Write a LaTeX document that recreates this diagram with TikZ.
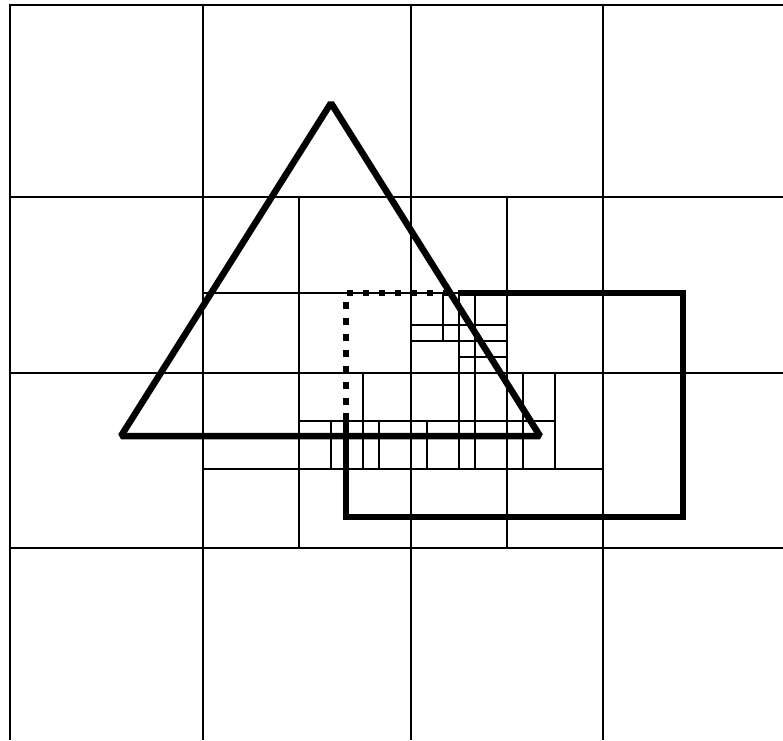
\documentclass[tikz,border=0pt]{standalone}
\usepackage{tikz}

\begin{document}
\begin{tikzpicture}[x=1pt, y=-1pt, cell/.style={line width=2pt}, shape edge/.style={line width=6.5pt}, hidden edge/.style={line width=6.5pt, dash pattern=on 6.5pt off 9.5pt, dash phase=7.5pt}]
\useasboundingbox (0,0) rectangle (783,740);
% coarse cells
\draw[cell] (10,740) -- (10,5) -- (783,5);
\draw[cell] (203,5) -- (203,740);
\draw[cell] (411,5) -- (411,740);
\draw[cell] (603,5) -- (603,740);
\draw[cell] (10,197) -- (783,197);
\draw[cell] (10,373) -- (783,373);
\draw[cell] (10,548) -- (783,548);
% second level
\draw[cell] (299,197) -- (299,548);
\draw[cell] (507,197) -- (507,548);
\draw[cell] (203,293) -- (603,293);
\draw[cell] (203,469) -- (603,469);
% third level and finer
\draw[cell] (411,325) -- (507,325);
\draw[cell] (411,341) -- (507,341);
\draw[cell] (459,357) -- (507,357);
\draw[cell] (443,293) -- (443,341);
\draw[cell] (459,293) -- (459,469);
\draw[cell] (475,293) -- (475,469);
\draw[cell] (363,373) -- (363,469);
\draw[cell] (523,373) -- (523,469);
\draw[cell] (555,373) -- (555,469);
\draw[cell] (299,421) -- (555,421);
\draw[cell] (331,421) -- (331,469);
\draw[cell] (347,421) -- (347,469);
\draw[cell] (379,421) -- (379,469);
\draw[cell] (427,421) -- (427,469);
% triangle
\draw[shape edge, line join=bevel] (331,103) -- (540,436) -- (121,436) -- cycle;
% rectangle, hidden part dotted
\draw[shape edge] (458,293) -- (683,293) -- (683,517) -- (346,517) -- (346,413);
\draw[hidden edge] (346,413) -- (346,293) -- (458,293);
\end{tikzpicture}
\end{document}
